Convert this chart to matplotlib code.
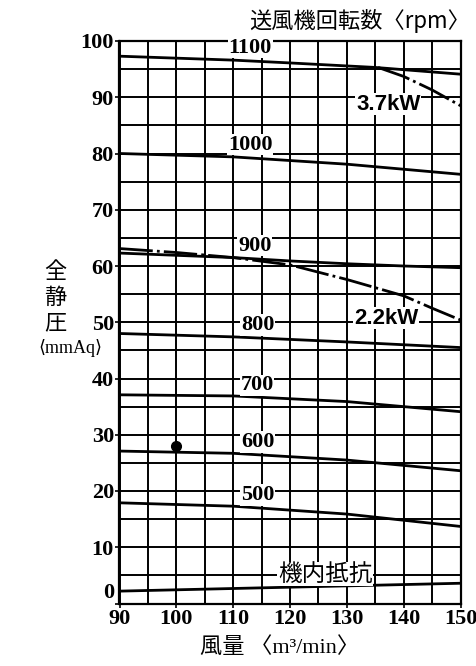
import matplotlib
matplotlib.use("Agg")
import matplotlib.pyplot as plt
import numpy as np

# rpm curves: (airflow m3/min, static pressure mmAq)
q_1100 = [90, 110, 120, 135, 150]
p_1100 = [97.3, 96.6, 96.1, 95.3, 94.1]
q_1000 = [90, 110, 130, 150]
p_1000 = [80.0, 79.4, 78.1, 76.3]
q_900 = [90, 110, 120, 130, 140, 150]
p_900 = [62.3, 61.5, 60.9, 60.4, 60.0, 59.7]
q_800 = [90, 110, 130, 150]
p_800 = [48.0, 47.4, 46.5, 45.5]
q_700 = [90, 110, 130, 150]
p_700 = [37.1, 36.9, 35.9, 34.1]
q_600 = [90, 110, 130, 150]
p_600 = [27.1, 26.7, 25.5, 23.6]
q_500 = [90, 110, 130, 150]
p_500 = [17.9, 17.3, 15.9, 13.7]

# internal resistance
q_res = [90, 120, 150]
p_res = [2.2, 2.9, 3.6]

# motor power limits
q_37 = [135.5, 140, 145, 150]
p_37 = [95.3, 93.7, 91.3, 88.5]
q_22 = [90, 100, 110, 120, 130, 140, 145, 150]
p_22 = [63.1, 62.4, 61.5, 60.2, 57.6, 54.7, 52.5, 50.4]

point_q = [100]
point_p = [28]

rpm_labels = ["1100", "1000", "900", "800", "700", "600", "500"]
rpm_label_pos = [(113, 98.8), (113, 81.6), (113.8, 63.6), (114.3, 49.5),
                 (114.2, 38.8), (114.3, 28.7), (114.3, 19.3)]

W, H = 477, 666
fig = plt.figure(figsize=(W / 100, H / 100), dpi=100)
ax = fig.add_axes([119.5 / W, 1 - 603.5 / H, 341 / W, 562.5 / H])

serif = ['Liberation Serif', 'DejaVu Serif', 'Noto Sans CJK JP']
cjk = ['Noto Sans CJK JP', 'Liberation Serif']

ax.set_xlim(90, 150)
ax.set_ylim(0, 100)
ax.set_xticks(np.arange(90, 151, 10))
ax.set_xticks(np.arange(95, 150, 10), minor=True)
ax.set_yticks(np.arange(0, 101, 10))
ax.set_yticks(np.arange(5, 100, 10), minor=True)
ax.grid(True, which='both', color='black', linewidth=1.4, zorder=1)
ax.set_axisbelow(True)
for s in ax.spines.values():
    s.set_linewidth(1.6)
ax.tick_params(which='major', direction='out', length=3, width=1.2, pad=1,
               labelsize=16)
ax.tick_params(which='minor', length=0)
for lab in ax.get_xticklabels() + ax.get_yticklabels():
    lab.set_family(serif)
    lab.set_weight('bold')
ax.get_yticklabels()[0].set_va('bottom')

lw = 2.0
for q, p in [(q_1100, p_1100), (q_1000, p_1000), (q_900, p_900),
             (q_800, p_800), (q_700, p_700), (q_600, p_600),
             (q_500, p_500), (q_res, p_res)]:
    ax.plot(q, p, color='black', linewidth=lw, zorder=3)

for q, p in [(q_37, p_37), (q_22, p_22)]:
    ax.plot(q, p, color='black', linewidth=lw, zorder=3,
            dashes=[12, 1.5, 1, 1.5])

ax.plot(point_q, point_p, 'o', color='black', markersize=7, zorder=4)

for txt, (x, y) in zip(rpm_labels, rpm_label_pos):
    ax.text(x, y, txt, ha='center', va='center', fontsize=16, family=serif,
            weight='bold', zorder=5, clip_on=False,
            bbox=dict(facecolor='white', edgecolor='none', pad=0.5))

ax.text(126.2, 5.2, "機内抵抗", ha='center', va='center', fontsize=17,
        family=cjk, zorder=5,
        bbox=dict(facecolor='white', edgecolor='none', pad=0.5))

ax.text(137.3, 88.8, "3.7kW", ha='center', va='center', fontsize=16,
        family='Liberation Sans', weight='bold', zorder=5,
        bbox=dict(facecolor='white', edgecolor='none', pad=0.5))
ax.text(136.9, 50.7, "2.2kW", ha='center', va='center', fontsize=16,
        family='Liberation Sans', weight='bold', zorder=5,
        bbox=dict(facecolor='white', edgecolor='none', pad=0.5))

# outer labels
fig.text(470 / W, 1 - 21 / H, "送風機回転数〈rpm〉", ha='right', va='center',
         fontsize=16, family=cjk)
for i, ch in enumerate("全静圧"):
    fig.text(55 / W, 1 - (271 + 26 * i) / H, ch, ha='center', va='center',
             fontsize=16, family=cjk)
fig.text(70 / W, 1 - 348 / H, "⟨mmAq⟩", ha='center', va='center',
         fontsize=13, family=serif)
fig.text(280 / W, 1 - 648 / H, "風量 〈m³/min〉", ha='center', va='center',
         fontsize=16, family=['Liberation Serif', 'Noto Sans CJK JP'])

fig.savefig("out.png", dpi=100)
